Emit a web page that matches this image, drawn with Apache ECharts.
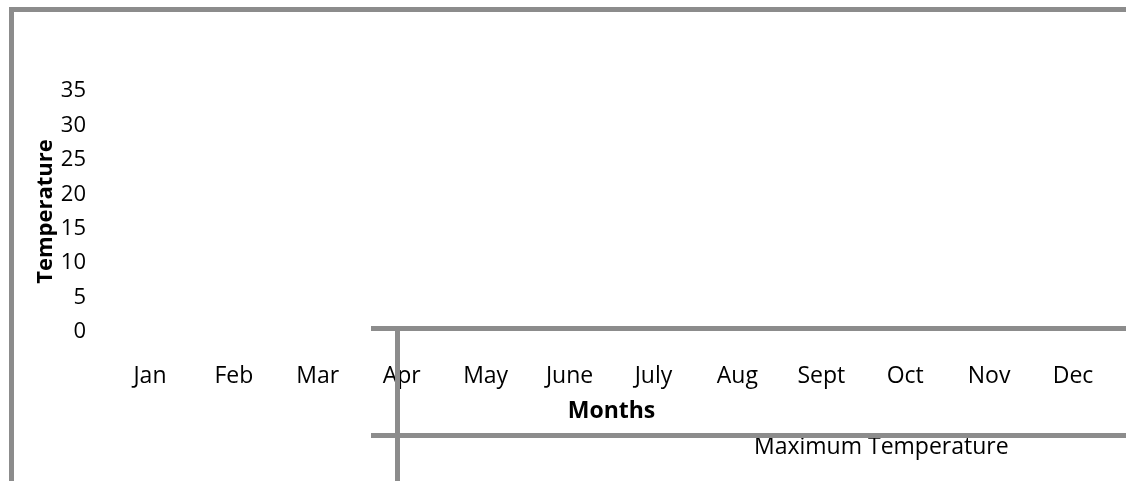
<!DOCTYPE html>
<html>
<head>
	<title>Maximum Temperature</title>
	<script src="https://cdn.jsdelivr.net/npm/echarts@6/dist/echarts.min.js"></script>
	<style type="text/css">
		body{ margin:0; background:#ffffff; }
		#chart{ width:1126px; height:481px; }
	</style>
	<script type="text/javascript">
		// months along the x axis
		var months=['Jan','Feb','Mar','Apr','May','June','July','Aug','Sept','Oct','Nov','Dec'];
		// no values are drawn in the picture, so every month is empty
		var maxTemp=[null,null,null,null,null,null,null,null,null,null,null,null];
		var seriesName='Maximum Temperature';
		var yMin=0, yMax=35, yStep=5;
	</script>
</head>
<body>
	<div id="chart"></div>
	<script type="text/javascript">
		var myChart=echarts.init(document.getElementById('chart'));
		var font='Open Sans';
		var grey='#8c8c8c';
		// the labels are tight, so the ticks are split over two stacked left axes
		// (one shows 0,10,20,30 and the other 5,15,25,35) to keep all of them visible
		function yAxisPart(even,withName){
			return {
				type:'value',
				position:'left',
				offset:0,
				min:yMin,
				max:yMax,
				interval:yStep,
				name:withName?'Temperature':'',
				nameLocation:'middle',
				nameGap:42,
				nameMoveOverlap:false,
				nameTextStyle:{ color:'#000', fontSize:22, fontWeight:'bold', fontFamily:font },
				axisLine:{ show:false },
				axisTick:{ show:false },
				splitLine:{ show:false },
				axisLabel:{
					color:'#000', fontSize:22, margin:22, fontFamily:font,
					showMinLabel:true, showMaxLabel:true, hideOverlap:false,
					formatter:function(v){
						var isEven=Math.round(v/yStep)%2===0;
						return isEven===even?String(v):'';
					}
				}
			};
		}
		var option={
			animation:false,
			textStyle:{ fontFamily:font },
			legend:{
				data:[{ name:seriesName, icon:'none' }],
				left:744,
				top:424,
				itemWidth:0,
				itemGap:0,
				textStyle:{ color:'#000', fontSize:23, fontFamily:font }
			},
			grid:{ left:108, right:11, top:91, bottom:149, containLabel:false, outerBoundsMode:'none' },
			xAxis:{
				type:'category',
				data:months,
				name:'Months',
				nameLocation:'middle',
				nameGap:58,
				nameMoveOverlap:false,
				nameTextStyle:{ color:'#000', fontSize:23, fontWeight:'bold', fontFamily:font },
				axisLine:{ show:false },
				axisTick:{ show:false },
				axisLabel:{ color:'#000', fontSize:23, margin:26, fontFamily:font }
			},
			yAxis:[ yAxisPart(true,true), yAxisPart(false,false) ],
			graphic:[
				{ type:'rect', shape:{ x:11.5, y:9.5, width:1300, height:700 }, style:{ fill:'none', stroke:grey, lineWidth:5 }, z:100 },
				{ type:'line', shape:{ x1:371, y1:328.5, x2:1130, y2:328.5 }, style:{ stroke:grey, lineWidth:5 }, z:100 },
				{ type:'line', shape:{ x1:371, y1:435.5, x2:1130, y2:435.5 }, style:{ stroke:grey, lineWidth:5 }, z:100 },
				{ type:'line', shape:{ x1:397.5, y1:326, x2:397.5, y2:490 }, style:{ stroke:grey, lineWidth:5 }, z:100 }
			],
			series:[
				{
					name:seriesName,
					type:'line',
					yAxisIndex:0,
					data:maxTemp,
					showSymbol:false,
					lineStyle:{ color:'#4f81bd', width:3 },
					itemStyle:{ color:'#4f81bd' }
				}
			]
		};
		myChart.setOption(option);
	</script>
</body>
</html>
